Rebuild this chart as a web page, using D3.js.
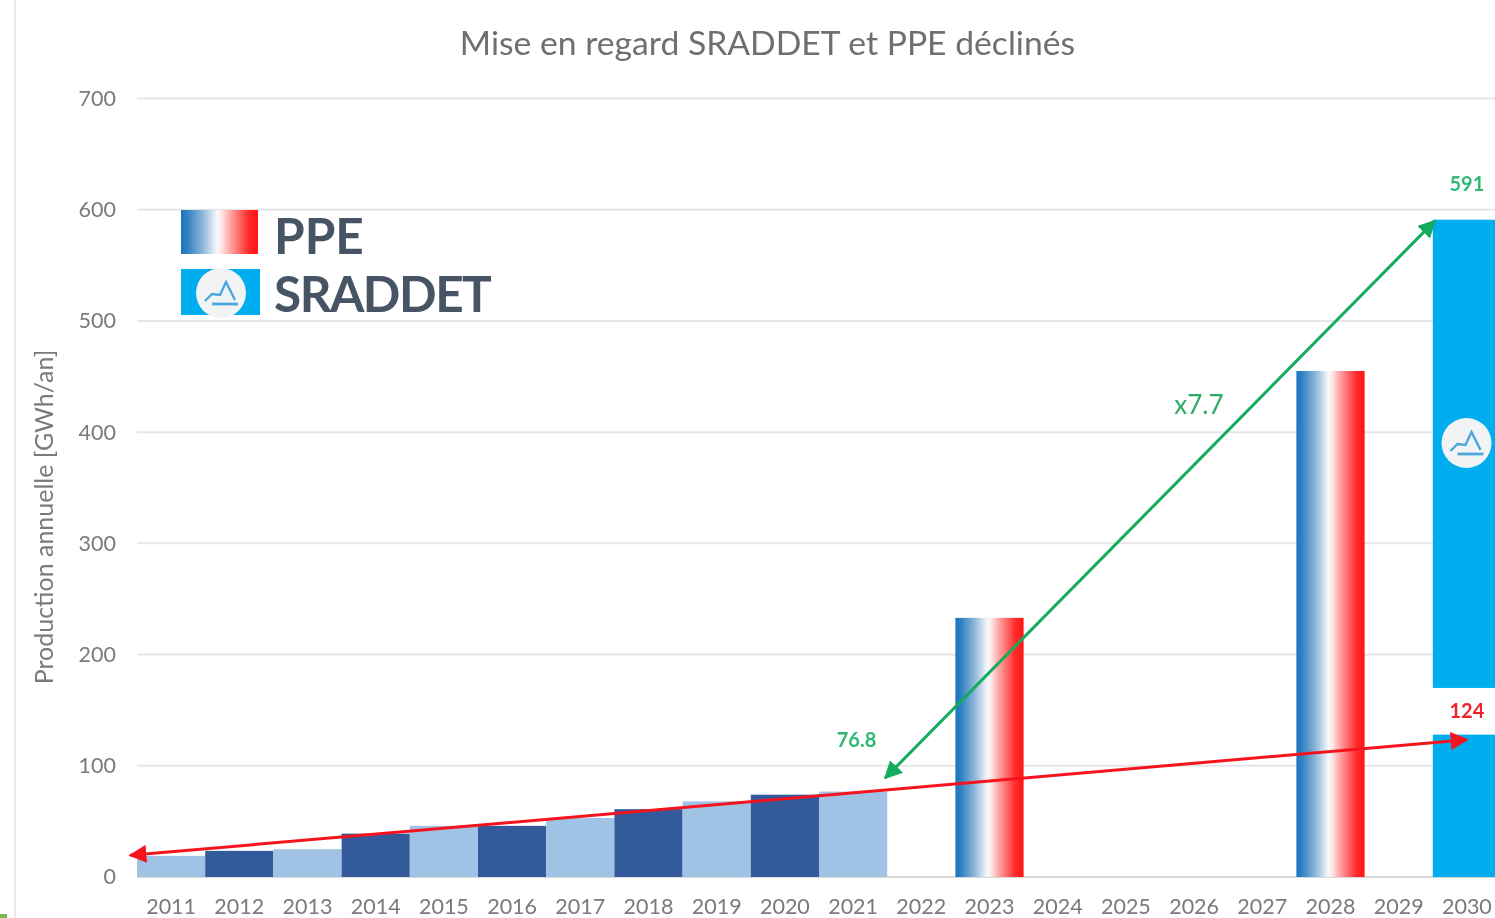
<!DOCTYPE html>
<html><head><meta charset="utf-8">
<script src="https://cdnjs.cloudflare.com/ajax/libs/d3/7.8.5/d3.min.js"></script>
<style>html,body{margin:0;padding:0;background:#fff;overflow:hidden}svg{display:block;font-family:Lato,sans-serif;filter:blur(0.75px)}</style>
</head><body><svg id="c" width="1495" height="918"></svg>
<script>
const title = "Mise en regard SRADDET et PPE déclinés";
const yLabel = "Production annuelle [GWh/an]";
const years = d3.range(2011, 2031).map(String);
const yTicks = [0,100,200,300,400,500,600,700];
const histYears = ["2011","2012","2013","2014","2015","2016","2017","2018","2019","2020","2021"];
const histValues = [19,23.5,25,39,46,46,53,61,68,74,76.8];
const ppeYears = ["2023","2028"];
const ppeValues = [233,455];
const sraddetYear = "2030";
const sraddetLow = [0,128];
const sraddetHigh = [170,591];
const redArrow = [[2010.4,19.5],[2030,123.5]];
const greenArrow = [[2021.47,89],[2029.53,590]];
const labels = [
 {t:"76.8",yr:2021.05,v:117,c:"#2fb873",s:20,w:700},
 {t:"591", yr:2030,  v:617,c:"#2fb873",s:20,w:700},
 {t:"124", yr:2030,  v:143,c:"#f0202c",s:20,w:700},
 {t:"x7.7",yr:2026.07,v:416,c:"#2aaa62",s:26,w:400}
];
const legendItems = ["PPE","SRADDET"];

const W=1495,H=918;
const svg=d3.select("#c");
const x=d3.scaleBand().domain(years).range([137,1501]).padding(0);
const y=d3.scaleLinear().domain([0,700]).range([877,98.5]);
const xn=d3.scaleLinear().domain([2011,2030]).range([x("2011")+x.bandwidth()/2,x("2030")+x.bandwidth()/2]);

const defs=svg.append("defs");
function tricolore(id){
 const g=defs.append("linearGradient").attr("id",id).attr("x1",0).attr("x2",1).attr("y1",0).attr("y2",0);
 [[0,"#1a75bd"],[.08,"#2f80c2"],[.28,"#8db6d8"],[.47,"#f6f9fc"],[.53,"#ffe6e6"],[.6,"#ffb8b8"],[.88,"#ff2a2a"],[1,"#ff1414"]]
  .forEach(s=>g.append("stop").attr("offset",s[0]).attr("stop-color",s[1]));
}
tricolore("tri");
function marker(id,c,sz){
 const m=defs.append("marker").attr("id",id).attr("viewBox","0 0 10 10").attr("refX",9).attr("refY",5)
  .attr("markerWidth",sz).attr("markerHeight",sz).attr("markerUnits","userSpaceOnUse").attr("orient","auto-start-reverse");
 m.append("path").attr("d","M0,0L10,5L0,10Z").attr("fill",c);
}
marker("ar","#f5141e",18);marker("ag","#14ab5c",18);

// page edge marks
svg.append("line").attr("x1",15).attr("x2",15).attr("y1",0).attr("y2",H).attr("stroke","#e4e4e4").attr("stroke-width",1.5);
svg.append("rect").attr("x",0).attr("y",914).attr("width",7).attr("height",4).attr("fill","#7ab648");

// title
svg.append("text").attr("x",767.5).attr("y",55).attr("text-anchor","middle").attr("font-size",33.7).attr("fill","#6f6f6f").text(title);

// y axis
const gy=svg.append("g").attr("transform","translate(137,0)").call(d3.axisLeft(y).tickValues(yTicks).tickSize(0).tickPadding(21));
gy.select(".domain").remove();
gy.selectAll("text").attr("font-family","Lato,sans-serif").attr("font-size",21.5).attr("fill","#7a7a7a");
svg.append("g").selectAll("line").data(yTicks).join("line")
 .attr("x1",137).attr("x2",W).attr("y1",d=>y(d)).attr("y2",d=>y(d))
 .attr("stroke",d=>d===0?"#d9d9d9":"#e6e6e6").attr("stroke-width",2);

// x axis
const gx=svg.append("g").attr("transform","translate(0,877)").call(d3.axisBottom(x).tickSize(0).tickPadding(22));
gx.select(".domain").remove();
gx.selectAll("text").attr("font-family","Lato,sans-serif").attr("font-size",21.5).attr("fill","#7a7a7a");

// y title
svg.append("text").attr("transform","translate(53,517) rotate(-90)").attr("text-anchor","middle")
 .attr("font-size",25).attr("fill","#7a7a7a").text(yLabel);

// historical bars
svg.append("g").selectAll("rect").data(histYears).join("rect")
 .attr("x",d=>x(d)).attr("width",x.bandwidth())
 .attr("y",(d,i)=>y(histValues[i])).attr("height",(d,i)=>y(0)-y(histValues[i]))
 .attr("fill",(d,i)=>i%2?"#335a9a":"#a0c3e5");

// PPE bars
svg.append("g").selectAll("rect").data(ppeYears).join("rect")
 .attr("x",d=>x(d)).attr("width",x.bandwidth())
 .attr("y",(d,i)=>y(ppeValues[i])).attr("height",(d,i)=>y(0)-y(ppeValues[i]))
 .attr("fill","url(#tri)");

// SRADDET bar (two pieces)
svg.append("g").selectAll("rect").data([sraddetLow,sraddetHigh]).join("rect")
 .attr("x",x(sraddetYear)).attr("width",x.bandwidth())
 .attr("y",d=>y(d[1])).attr("height",d=>y(d[0])-y(d[1])).attr("fill","#00aeef");

// logo: r is the disc radius
function logo(g,cx,cy,r){
 const l=g.append("g").attr("transform",`translate(${cx},${cy}) scale(${r/25})`);
 l.append("circle").attr("r",25).attr("fill","#f1f3f5");
 l.append("path").attr("d","M-16,8L-9,1L-1,2L5,-11L14,7")
  .attr("fill","none").attr("stroke","#4aa8dc").attr("stroke-width",2.4);
 l.append("path").attr("d","M-9,11H17").attr("stroke","#4aa8dc").attr("stroke-width",2.8);
}
logo(svg,1466.5,443,25);

// arrows
const lineGen=d3.line().x(d=>xn(d[0])).y(d=>y(d[1]));
svg.append("path").attr("d",lineGen(redArrow)).attr("fill","none").attr("stroke","#f5141e").attr("stroke-width",3)
 .attr("marker-start","url(#ar)").attr("marker-end","url(#ar)");
svg.append("path").attr("d",lineGen(greenArrow)).attr("fill","none").attr("stroke","#14ab5c").attr("stroke-width",3)
 .attr("marker-start","url(#ag)").attr("marker-end","url(#ag)");

// labels
svg.append("g").selectAll("text").data(labels).join("text")
 .attr("x",d=>xn(d.yr)).attr("y",d=>y(d.v)).attr("text-anchor","middle")
 .attr("font-size",d=>d.s).attr("font-weight",d=>d.w).attr("fill",d=>d.c).text(d=>d.t);

// legend
svg.append("rect").attr("x",181).attr("y",210).attr("width",77).attr("height",44).attr("fill","url(#tri)");
svg.append("rect").attr("x",181).attr("y",269).attr("width",79).attr("height",46).attr("fill","#00aeef");
logo(svg,221,293,25);
svg.append("g").selectAll("text").data(legendItems).join("text")
 .attr("x",274).attr("y",(d,i)=>254+i*58).attr("font-size",49.5).attr("letter-spacing",(d,i)=>i?-1.5:0).attr("font-weight",700).attr("fill","#465464").text(d=>d);
</script></body></html>
